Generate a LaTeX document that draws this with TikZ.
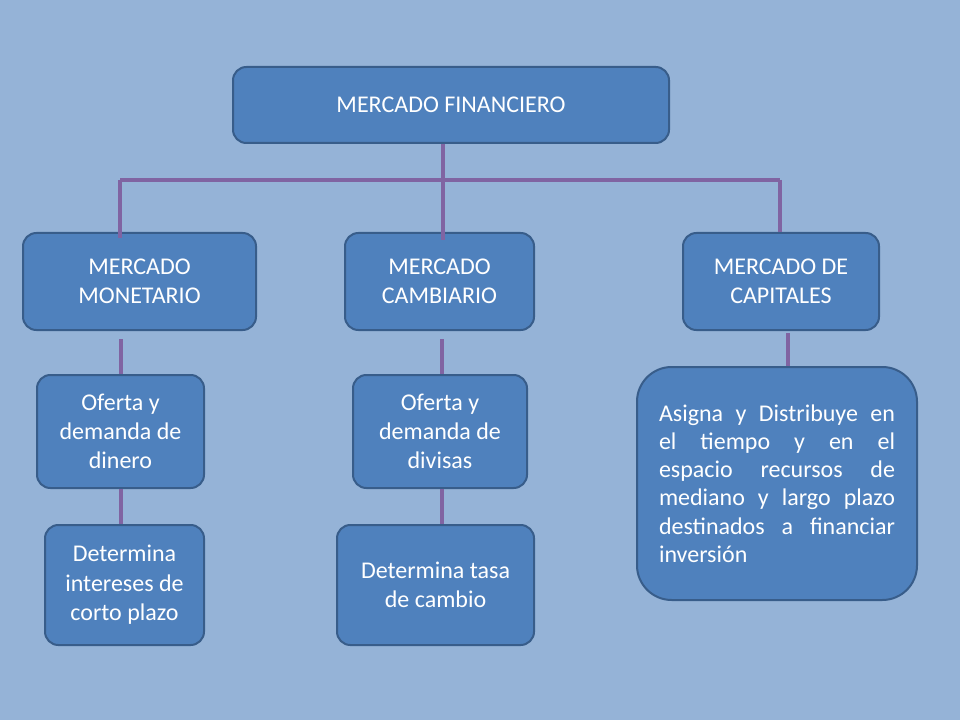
\documentclass[tikz,border=0pt]{standalone}
\usepackage{fontspec}
\setmainfont{Carlito}
\usetikzlibrary{calc}
\definecolor{bg}{HTML}{95B3D7}
\definecolor{boxfill}{HTML}{4F81BD}
\definecolor{boxline}{HTML}{385D8A}
\definecolor{conn}{HTML}{8064A2}
\tikzset{
  box/.style={draw=boxline, line width=1.5pt, fill=boxfill, rounded corners=10pt,
    text=white, align=center, inner sep=0pt, font=\fontsize{18}{22}\selectfont},
  link/.style={draw=conn, line width=3pt}
}
\begin{document}
\begin{tikzpicture}[x=0.75pt,y=-0.75pt]
\fill[bg] (0,0) rectangle (960,720);
\useasboundingbox (0,0) rectangle (960,720);

\node[box, minimum width=436*0.75pt, minimum height=76*0.75pt] (top) at (451,105) {MERCADO FINANCIERO};
\node[box, minimum width=233*0.75pt, minimum height=97*0.75pt] (mon) at (139.5,281.5) {MERCADO\\MONETARIO};
\node[box, minimum width=189*0.75pt, minimum height=97*0.75pt] (cam) at (439.5,281.5) {MERCADO\\CAMBIARIO};
\node[box, minimum width=196*0.75pt, minimum height=97*0.75pt] (cap) at (781,281.5) {MERCADO DE\\CAPITALES};
\node[box, minimum width=167*0.75pt, minimum height=113*0.75pt] (ofd) at (120.5,431.5) {Oferta y\\demanda de\\dinero};
\node[box, minimum width=174*0.75pt, minimum height=113*0.75pt] (ofv) at (440,431.5) {Oferta y\\demanda de\\divisas};
\node[box, minimum width=159*0.75pt, minimum height=120*0.75pt] (det1) at (124.5,585) {Determina\\intereses de\\corto plazo};
\node[box, minimum width=197*0.75pt, minimum height=120*0.75pt] (det2) at (435.5,585) {Determina tasa\\de cambio};
\node[box, rounded corners=26pt, minimum width=280*0.75pt, minimum height=233*0.75pt] (asg) at (777,483.5) {};
\node[text=white, align=justify, text width=236*0.75pt, inner sep=0pt,
  font=\fontsize{18}{21.2}\selectfont] (asgtext) at (asg.center)
  {Asigna y Distribuye en\linebreak el tiempo y en el\linebreak espacio recursos de\linebreak mediano y largo plazo\linebreak destinados a financiar\linebreak inversión};

\coordinate (busL) at (120,180);
\coordinate (busC) at (443,180);
\coordinate (busR) at (780,180);

\draw[link] (busC |- top.south) -- ($(busC |- cam.north)+(0,8)$);
\draw[link] (busL) -- (busR);
\draw[link] (busL) -- ($(busL |- mon.north)+(0,6)$);
\draw[link] (busR) -- (busR |- cap.north);

\draw[link] ($(ofd.north |- mon.south)+(0,8)$) -- (ofd.north);
\draw[link] (ofd.south) -- (ofd.south |- det1.north);
\draw[link] ($(ofv.north |- cam.south)+(2,8)$) -- ($(ofv.north)+(2,0)$);
\draw[link] ($(ofv.south)+(2,0)$) -- ($(ofv.south |- det2.north)+(2,0)$);
\draw[link] ($(cap.south)+(7,2)$) -- ($(cap.south |- asg.north)+(7,0)$);
\end{tikzpicture}
\end{document}
